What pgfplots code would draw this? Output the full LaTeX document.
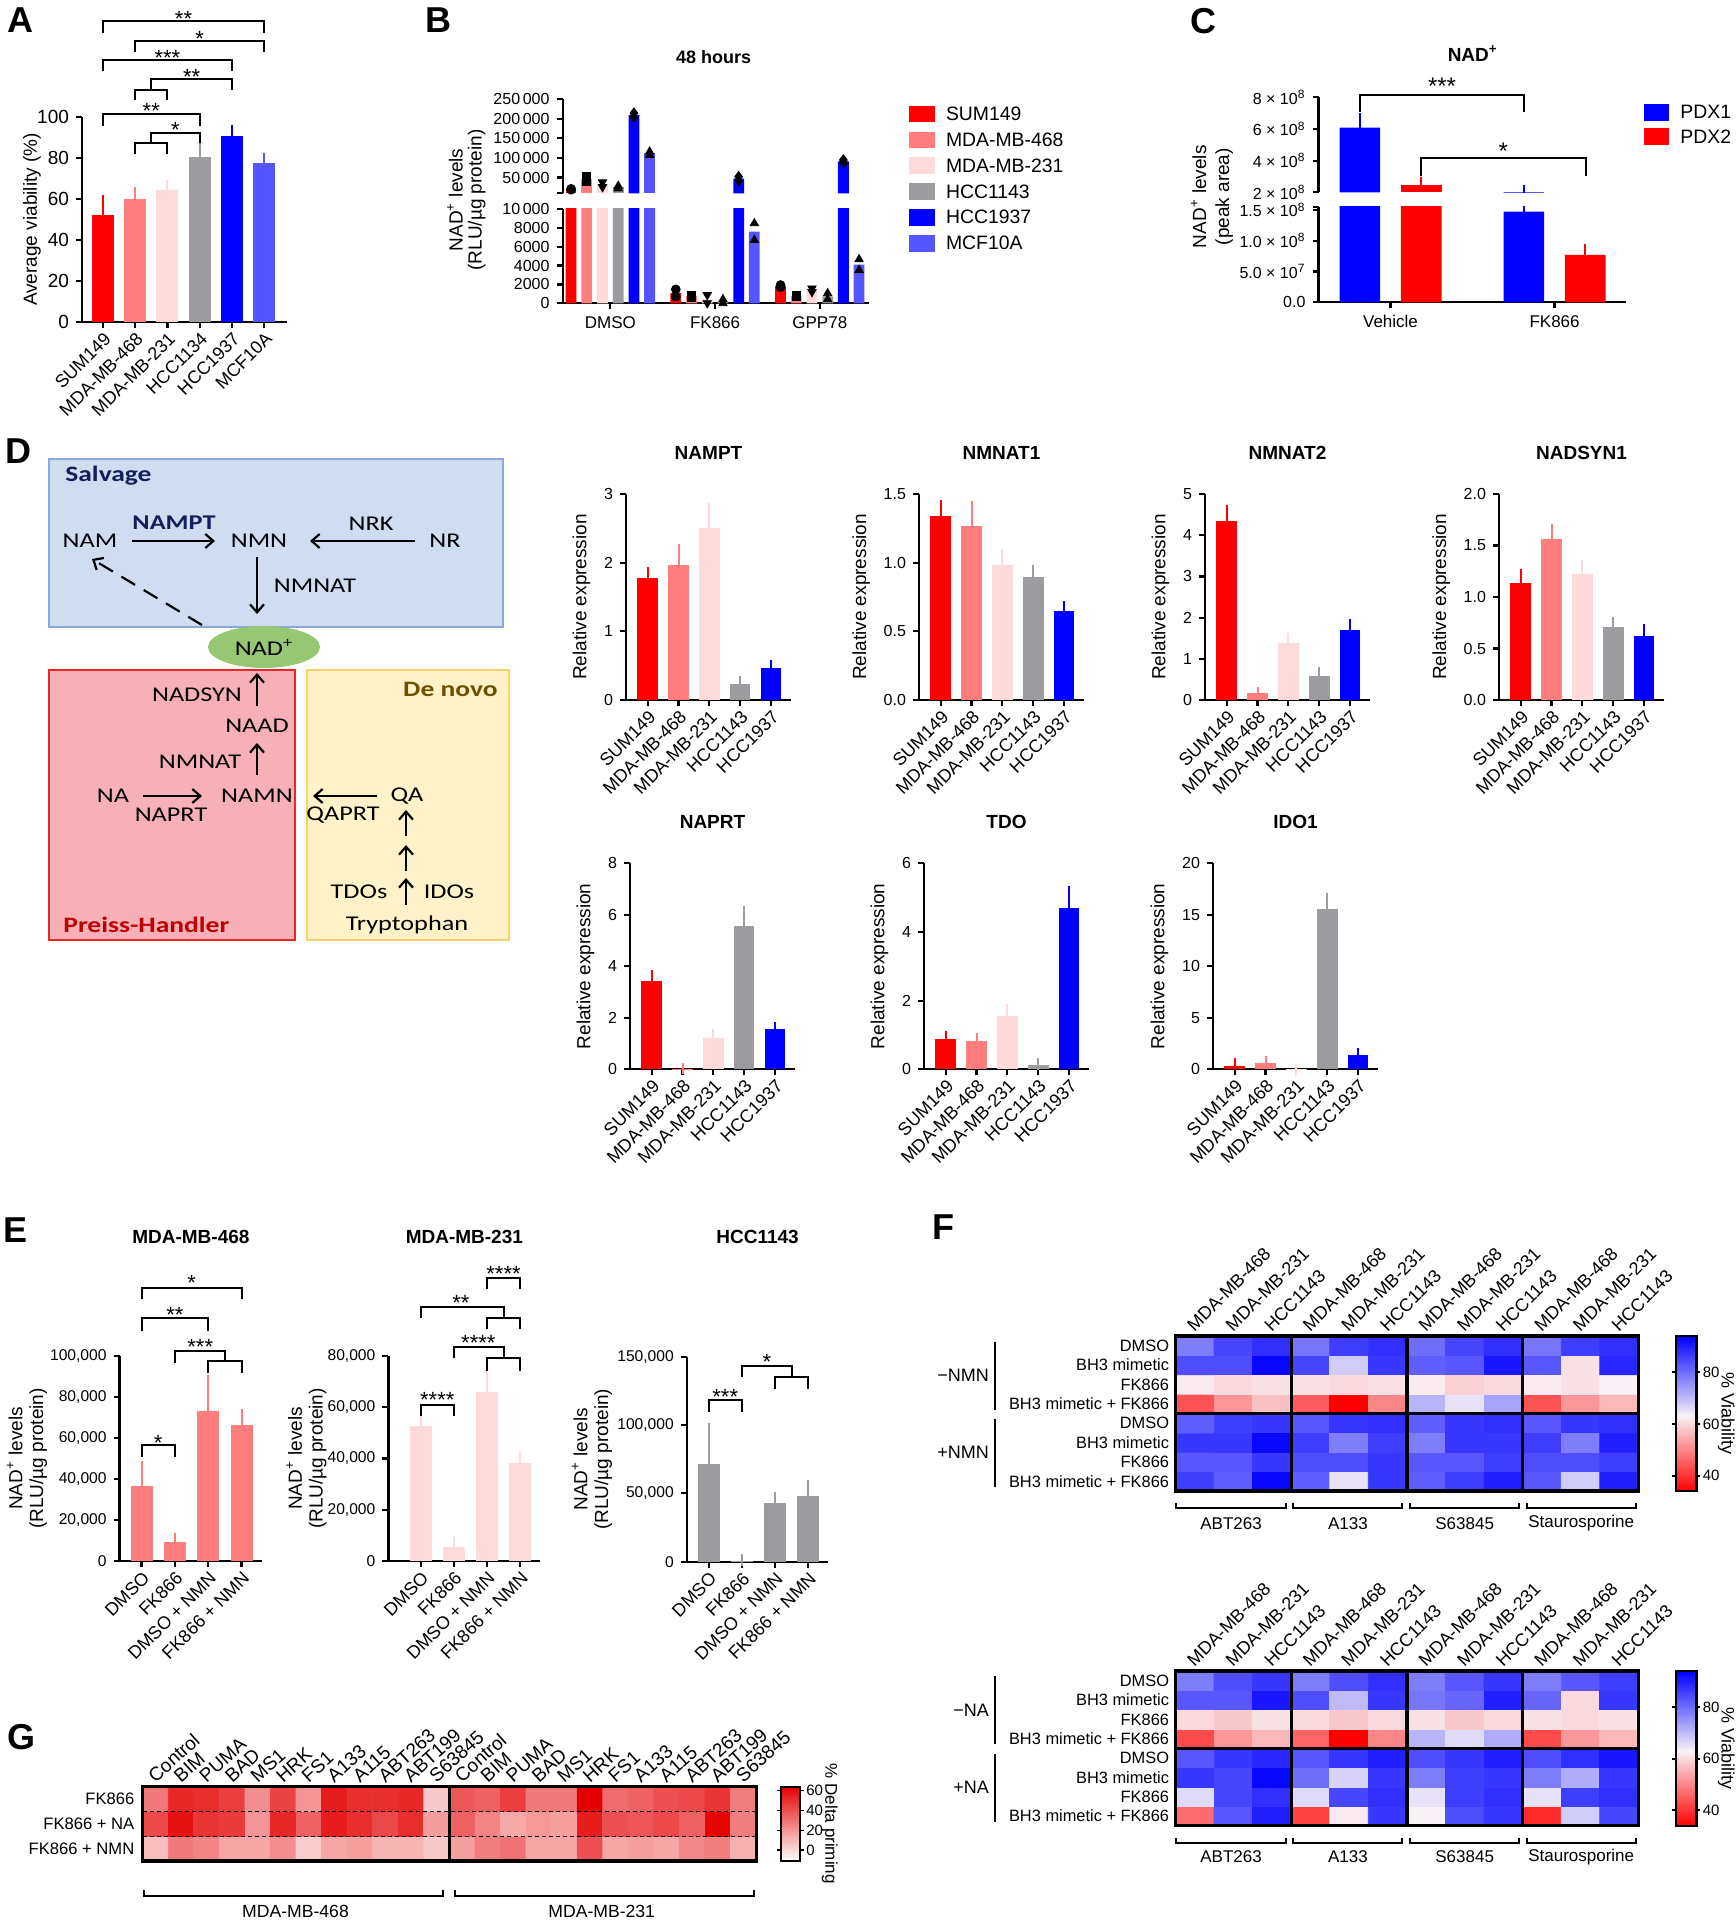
\documentclass[border=0pt]{standalone}
\usepackage{pgfplots}
\pgfplotsset{compat=1.18}
\usepackage{fontspec}
\setmainfont{Liberation Sans}
\newfontfamily\diag[FakeStretch=1.25]{Carlito}
\usetikzlibrary{arrows.meta}
\newcommand\fs[2]{\fontsize{#1}{#2}\selectfont}

\definecolor{cS}{RGB}{255,0,0}
\definecolor{cMa}{RGB}{255,125,125}
\definecolor{cMb}{RGB}{255,218,218}
\definecolor{cHa}{RGB}{155,155,160}
\definecolor{cHb}{RGB}{0,0,255}
\definecolor{cMCF}{RGB}{85,85,255}
\definecolor{salfill}{RGB}{208,220,240}
\definecolor{salline}{RGB}{140,168,220}
\definecolor{phfill}{RGB}{248,176,184}
\definecolor{phline}{RGB}{235,40,40}
\definecolor{dnfill}{RGB}{255,242,200}
\definecolor{dnline}{RGB}{250,210,100}
\definecolor{nadg}{RGB}{150,200,115}
\definecolor{navy}{RGB}{20,30,90}
\definecolor{dred}{RGB}{190,0,0}
\definecolor{dbrown}{RGB}{110,80,0}

\pgfplotsset{
  /pgf/number format/assume math mode=true,
  colormap={wr}{rgb255(0pt)=(255,255,255); rgb255(1pt)=(228,0,0)},
  colormap={rwb}{rgb255(0pt)=(255,0,0); rgb255(29pt)=(248,242,246); rgb255(60pt)=(0,0,255)},
  prism/.style={scale only axis, axis lines=left, axis line style={-,line width=1.1pt},
    tick align=outside, major tick length=3pt, tick style={line width=1.1pt,black},
    enlargelimits=false, tick label style={font=\fs{8}{9}}},
  B/.style={ybar, bar shift=0pt, draw=none, fill=#1, error bars/.cd, y dir=plus, y explicit,
    error bar style={#1,line width=1pt}, error mark options={#1,line width=1pt,mark size=2.9pt}},
  NB/.style={ybar, bar shift=0pt, draw=none, fill=#1},
  dax/.style={prism, anchor=south west, width=82.5pt, height=103pt, xmin=-0.705, xmax=4.65, ymin=0,
    xtick={0,1,2,3,4}, xticklabels={SUM149,MDA-MB-468,MDA-MB-231,HCC1143,HCC1937},
    x tick label style={rotate=45,anchor=north east,inner sep=1pt,font=\fs{9}{10}},
    y tick label style={font=\fs{8}{9}}, bar width=0.67,
    ylabel={Relative expression}, ylabel style={font=\fs{9.5}{11}},
    title style={at={(axis description cs:0.5,1)},anchor=center,yshift=14.5pt,font=\bfseries\fs{9.5}{11}},
    clip=false},
  dec/.style={y tick label style={/pgf/number format/fixed,/pgf/number format/fixed zerofill,/pgf/number format/precision=1}},
  eax/.style={prism, anchor=south west, height=102.5pt, ymin=0, scaled y ticks=false,
    /pgf/number format/fixed, /pgf/number format/1000 sep={,},
    xtick={0,1,2,3}, xticklabels={DMSO,FK866,DMSO + NMN,FK866 + NMN},
    x tick label style={rotate=45,anchor=north east,inner sep=1pt,font=\fs{9}{10}},
    y tick label style={font=\fs{7.8}{9}}, bar width=0.66,
    ylabel={NAD\textsuperscript{+} levels\\(RLU/µg protein)},
    title style={at={(axis description cs:0.5,1)},anchor=center,yshift=53.7pt,font=\bfseries\fs{9.5}{11}},
    clip=false},
  eyl/.style={ylabel style={at={(axis description cs:#1,0.5)},anchor=center,align=center,font=\fs{9.5}{10.4}}},
  hm/.style={scale only axis, anchor=south west, enlargelimits=false, axis on top,
    axis line style={line width=1.6pt}, tick style={draw=none}, major tick length=0pt,
    xticklabel pos=right},
}
\tikzset{st/.style={font=\fs{11}{12}, inner sep=0pt, yshift=-2.4pt},
  dt/.style={font=\diag\fs{10.5}{12}, inner sep=0pt},
  ar/.style={line width=1.1pt, -{Straight Barb[length=4pt,width=7pt]}},
  br/.style={line width=1pt}}

\begin{document}
\begin{tikzpicture}[x=0.5pt,y=-0.5pt]
\path[use as bounding box] (0,0) rectangle (1735,1920);

% ---------- panel letters
\node[font=\bfseries\fs{18}{20}] at (20,20) {A};
\node[font=\bfseries\fs{18}{20}] at (438,20) {B};
\node[font=\bfseries\fs{18}{20}] at (1203,21) {C};
\node[font=\bfseries\fs{18}{20}] at (18,451) {D};
\node[font=\bfseries\fs{18}{20}] at (16,1230) {E};
\node[font=\bfseries\fs{18}{20}] at (943,1227) {F};
\node[font=\bfseries\fs{18}{20}] at (22,1737) {G};

% ---------- A
\begin{axis}[prism, at={(41pt,-161pt)}, anchor=south west, width=102.5pt, height=102.5pt,
  xmin=-0.65, xmax=5.71, ymin=0, ymax=100, ytick={0,20,40,60,80,100},
  xtick={0,1,2,3,4,5}, xticklabels={SUM149,MDA-MB-468,MDA-MB-231,HCC1134,HCC1937,MCF10A},
  x tick label style={rotate=45,anchor=north east,inner sep=1pt,font=\fs{9}{10}},
  y tick label style={font=\fs{9.5}{11}},
  ylabel={Average viability (\%)}, ylabel style={at={(axis description cs:-0.244,0.5)},anchor=center,font=\fs{9.5}{11}},
  bar width=0.68, clip=false]
\addplot[B=cS] coordinates {(0,52.4) +- (0,6.9)};
\addplot[B=cMa] coordinates {(1,60) +- (0,2.8)};
\addplot[B=cMb] coordinates {(2,64.6) +- (0,1.9)};
\addplot[B=cHa] coordinates {(3,80.5) +- (0,4.1)};
\addplot[B=cHb] coordinates {(4,90.9) +- (0,2.6)};
\addplot[B=cMCF] coordinates {(5,77.6) +- (0,1.9)};
\draw[br] (0,141) |- (5,146.7) -- (5,141);
\node[st] at (2.5,150) {**};
\draw[br] (1,131.5) |- (5,137.2) -- (5,131.5);
\node[st] at (3,140.2) {*};
\draw[br] (0,122.3) |- (4,128) -- (4,122.3);
\node[st] at (2,131) {***};
\draw[br] (1,108.1) |- (2,113.3) -- (2,108.1);
\draw[br] (1.5,113.3) |- (4,118.7) -- (4,113.3);
\node[st] at (2.75,121.8) {**};
\draw[br] (0,95.8) |- (3,101.5) -- (3,95.8);
\node[st] at (1.5,105.2) {**};
\draw[br] (1,82) |- (2,87.3) -- (2,82);
\draw[br] (1.5,87.3) |- (3,92.2) -- (3,87.3);
\node[st] at (2.25,95.8) {*};
\end{axis}

% ---------- B
\node[font=\bfseries\fs{9}{10}] at (713.6,56.7) {48 hours};
\node[rotate=90, align=center, font=\fs{9.5}{9.5}] at (466.4,200) {NAD\textsuperscript{+} levels\\(RLU/µg protein)};
\begin{axis}[prism, at={(281.3pt,-151.65pt)}, anchor=south west, width=153.1pt, height=47.15pt,
  xmin=-0.456, xmax=2.468, ymin=0, ymax=10000, scaled y ticks=false,
  ytick={0,2000,4000,6000,8000,10000}, yticklabels={0,2000,4000,6000,8000,10\,000},
  xtick={0,1,2}, xticklabels={DMSO,FK866,GPP78}, x tick label style={font=\fs{8.5}{10}},
  bar width=0.103, clip=true]
\addplot[NB=cS] coordinates {(-0.375,20250) (0.625,1090) (1.625,1820)};
\addplot[NB=cMa] coordinates {(-0.225,45900) (0.775,750) (1.775,790)};
\addplot[NB=cMb] coordinates {(-0.075,32000) (0.925,450) (1.925,1395)};
\addplot[NB=cHa] coordinates {(0.075,25300) (1.075,210) (2.075,740)};
\addplot[NB=cHb] coordinates {(0.225,209000) (1.225,47175) (2.225,91400)};
\addplot[NB=cMCF] coordinates {(0.375,111700) (1.375,7600) (2.375,4100)};
\addplot[only marks, mark=*, mark size=2.2pt, black] coordinates {(0.625,1480) (0.625,700) (1.625,1940) (1.625,1700)};
\addplot[only marks, mark=square*, mark size=2pt, black] coordinates {(0.775,880) (0.775,620) (1.775,880) (1.775,700)};
\addplot[only marks, mark=triangle*, mark options={rotate=180}, mark size=2.4pt, black] coordinates {(0.925,880) (0.925,20) (1.925,1590) (1.925,1200)};
\addplot[only marks, mark=triangle*, mark size=2.4pt, black] coordinates {(1.075,420) (1.075,0) (2.075,1060) (2.075,420)};
\addplot[only marks, mark=triangle*, mark size=2.4pt, black] coordinates {(1.375,8480) (1.375,6710) (2.375,4660) (2.375,3530)};
\end{axis}
\begin{axis}[prism, at={(281.3pt,-96.65pt)}, anchor=south west, width=153.1pt, height=47.15pt,
  xmin=-0.456, xmax=2.468, ymin=10000, ymax=250000, axis x line=none, scaled y ticks=false,
  ytick={10000,50000,100000,150000,200000,250000},
  yticklabels={,50\,000,100\,000,150\,000,200\,000,250\,000}, xtick=\empty,
  bar width=0.103, clip=true]
\addplot[NB=cS] coordinates {(-0.375,20250)};
\addplot[NB=cMa] coordinates {(-0.225,45900)};
\addplot[NB=cMb] coordinates {(-0.075,32000)};
\addplot[NB=cHa] coordinates {(0.075,25300)};
\addplot[NB=cHb] coordinates {(0.225,209000) (1.225,47175) (2.225,91400)};
\addplot[NB=cMCF] coordinates {(0.375,111700)};
\addplot[only marks, mark=*, mark size=2.2pt, black] coordinates {(-0.375,19000) (-0.375,21500)};
\addplot[only marks, mark=square*, mark size=2pt, black] coordinates {(-0.225,52250) (-0.225,39500)};
\addplot[only marks, mark=triangle*, mark options={rotate=180}, mark size=2.4pt, black] coordinates {(-0.075,38000) (-0.075,26000)};
\addplot[only marks, mark=triangle*, mark size=2.4pt, black] coordinates {(0.075,28600) (0.075,22000)};
\addplot[only marks, mark=diamond*, mark size=2.6pt, black] coordinates {(0.225,214000) (0.225,204000) (1.225,52250) (1.225,42100) (2.225,94800) (2.225,88000)};
\addplot[only marks, mark=triangle*, mark size=2.4pt, black] coordinates {(0.375,115900) (0.375,107500)};
\end{axis}
\foreach \c/\t/\yy in {cS/SUM149/114, cMa/MDA-MB-468/140, cMb/MDA-MB-231/165.7, cHa/HCC1143/191.7, cHb/HCC1937/217.3, cMCF/MCF10A/243.3}{
  \fill[\c] (908.7,\yy-8.3) rectangle (934.7,\yy+8.3);
  \node[anchor=west, inner sep=0pt, font=\fs{9.7}{11}] at (945.6,\yy) {\t};
}

% ---------- C
\node[font=\bfseries\fs{9.5}{11}] at (1472.7,53.3) {NAD\textsuperscript{+}};
\node[rotate=90, align=center, font=\fs{9.5}{11.5}] at (1212,196.7) {NAD\textsuperscript{+} levels\\(peak area)};
\begin{axis}[prism, at={(659.25pt,-151.15pt)}, anchor=south west, width=153.7pt, height=47.75pt,
  xmin=-0.439, xmax=1.435, ymin=0, ymax=1.55e8, scaled y ticks=false,
  ytick={0,5e7,1e8,1.5e8,1.55e8},
  yticklabels={0.0,5.0 × 10\textsuperscript{7},1.0 × 10\textsuperscript{8},1.5 × 10\textsuperscript{8},},
  xtick={0,1}, xticklabels={Vehicle,FK866}, x tick label style={font=\fs{8.5}{10}},
  bar width=0.248, clip=true]
\addplot[B=cHb] coordinates {(-0.187,6.08e8) +- (0,0.57e8) (0.813,1.47e8) +- (0,0.61e8)};
\addplot[B=cS] coordinates {(0.187,2.46e8) +- (0,0.11e8) (1.187,0.77e8) +- (0,0.09e8)};
\end{axis}
\begin{axis}[prism, at={(659.25pt,-96.15pt)}, anchor=south west, width=153.7pt, height=47.5pt,
  xmin=-0.439, xmax=1.435, ymin=2e8, ymax=8e8, scaled y ticks=false, axis x line=none,
  ytick={2e8,4e8,6e8,8e8},
  yticklabels={2 × 10\textsuperscript{8},4 × 10\textsuperscript{8},6 × 10\textsuperscript{8},8 × 10\textsuperscript{8}},
  xtick=\empty, bar width=0.248, clip=true]
\addplot[B=cHb] coordinates {(-0.187,6.08e8) +- (0,0.57e8) (0.813,1.47e8) +- (0,0.61e8)};
\addplot[B=cS] coordinates {(0.187,2.46e8) +- (0,0.11e8)};
\end{axis}
\draw[br] (1359.9,111.7) -- (1359.9,95) -- (1523.9,95) -- (1523.9,111.7);
\node[st, font=\fs{12}{13}] at (1442,81.7) {***};
\draw[br] (1421.2,175.7) -- (1421.2,158.3) -- (1585.5,158.3) -- (1585.5,175.7);
\node[st, font=\fs{12}{13}] at (1503.3,146.7) {*};
\fill[cHb] (1643.9,104) rectangle (1669.1,120.7);
\fill[cS] (1643.9,128.3) rectangle (1669.1,145);
\node[anchor=west, inner sep=0pt, font=\fs{9.7}{11}] at (1680,112.3) {PDX1};
\node[anchor=west, inner sep=0pt, font=\fs{9.7}{11}] at (1680,136.7) {PDX2};

% ---------- D diagram
\filldraw[fill=salfill, draw=salline, line width=1pt] (49,459) rectangle (503,627);
\filldraw[fill=phfill, draw=phline, line width=1pt] (49,670) rectangle (295,940);
\filldraw[fill=dnfill, draw=dnline, line width=1pt] (307,670) rectangle (509,940);
\fill[nadg] (264,647) ellipse [x radius=28pt, y radius=10.5pt];
\node[anchor=west, inner sep=0pt, font=\diag\bfseries\fs{11}{13}, text=navy] at (65,476) {Salvage};
\node[dt, font=\diag\bfseries\fs{10.5}{12}, text=navy] at (174,523) {NAMPT};
\node[dt] at (90,541) {NAM};
\node[dt] at (259,541) {NMN};
\node[dt] at (445,541) {NR};
\node[dt] at (371,524) {NRK};
\node[dt] at (315,586) {NMNAT};
\draw[ar] (132,541) -- (215,541);
\draw[ar] (415,541) -- (310,541);
\draw[ar] (257,557) -- (257,614);
\draw[line width=1.1pt, dash pattern=on 8pt off 5pt, -{Straight Barb[length=4pt,width=7pt]}] (202,625) -- (92,559);
\node[dt] at (264,647) {NAD\textsuperscript{+}};
\node[dt] at (197,695) {NADSYN};
\draw[ar] (257,706) -- (257,673);
\node[dt] at (257,726) {NAAD};
\node[dt] at (200,762) {NMNAT};
\draw[ar] (257,775) -- (257,743);
\node[dt] at (113,796) {NA};
\draw[ar] (143,796) -- (202,796);
\node[dt] at (171,815) {NAPRT};
\node[dt] at (257,796) {NAMN};
\node[dt] at (407,796) {QA};
\draw[ar] (377,796) -- (313,796);
\node[dt] at (343,815) {QAPRT};
\draw[ar] (406,836) -- (406,810);
\draw[ar] (406,871) -- (406,845);
\draw[ar] (406,905) -- (406,878);
\node[dt] at (359,892) {TDOs};
\node[dt] at (449,892) {IDOs};
\node[dt, anchor=base] at (407,930) {Tryptophan};
\node[anchor=west, inner sep=0pt, font=\diag\bfseries\fs{11}{13}, text=dred] at (63,925) {Preiss-Handler};
\node[anchor=east, inner sep=0pt, font=\diag\bfseries\fs{11}{13}, text=dbrown] at (498,689) {De novo};

% ---------- D charts
\begin{axis}[dax, at={(313pt,-350pt)}, ymax=3, ytick={0,1,2,3}, title={NAMPT}]
\addplot[B=cS] coordinates {(0,1.77) +- (0,0.08)};
\addplot[B=cMa] coordinates {(1,1.97) +- (0,0.22)};
\addplot[B=cMb] coordinates {(2,2.51) +- (0,0.27)};
\addplot[B=cHa] coordinates {(3,0.23) +- (0,0.04)};
\addplot[B=cHb] coordinates {(4,0.46) +- (0,0.04)};
\end{axis}
\begin{axis}[dax, dec, at={(459.5pt,-350pt)}, ymax=1.5, ytick={0,0.5,1,1.5}, title={NMNAT1}]
\addplot[B=cS] coordinates {(0,1.337) +- (0,0.08)};
\addplot[B=cMa] coordinates {(1,1.264) +- (0,0.14)};
\addplot[B=cMb] coordinates {(2,0.985) +- (0,0.073)};
\addplot[B=cHa] coordinates {(3,0.897) +- (0,0.044)};
\addplot[B=cHb] coordinates {(4,0.649) +- (0,0.032)};
\end{axis}
\begin{axis}[dax, at={(602.5pt,-350pt)}, ymax=5, ytick={0,1,2,3,4,5}, title={NMNAT2}]
\addplot[B=cS] coordinates {(0,4.34) +- (0,0.26)};
\addplot[B=cMa] coordinates {(1,0.16) +- (0,0.02)};
\addplot[B=cMb] coordinates {(2,1.39) +- (0,0.09)};
\addplot[B=cHa] coordinates {(3,0.575) +- (0,0.075)};
\addplot[B=cHb] coordinates {(4,1.69) +- (0,0.14)};
\end{axis}
\begin{axis}[dax, dec, at={(749.5pt,-350pt)}, ymax=2, ytick={0,0.5,1,1.5,2}, title={NADSYN1}]
\addplot[B=cS] coordinates {(0,1.14) +- (0,0.08)};
\addplot[B=cMa] coordinates {(1,1.56) +- (0,0.09)};
\addplot[B=cMb] coordinates {(2,1.225) +- (0,0.075)};
\addplot[B=cHa] coordinates {(3,0.707) +- (0,0.04)};
\addplot[B=cHb] coordinates {(4,0.626) +- (0,0.054)};
\end{axis}
\begin{axis}[dax, at={(315pt,-534.65pt)}, ymax=8, ytick={0,2,4,6,8}, title={NAPRT}]
\addplot[B=cS] coordinates {(0,3.43) +- (0,0.21)};
\addplot[B=cMa] coordinates {(1,0.03) +- (0,0)};
\addplot[B=cMb] coordinates {(2,1.2) +- (0,0.13)};
\addplot[B=cHa] coordinates {(3,5.58) +- (0,0.54)};
\addplot[B=cHb] coordinates {(4,1.55) +- (0,0.07)};
\end{axis}
\begin{axis}[dax, at={(462pt,-534.65pt)}, ymax=6, ytick={0,2,4,6}, title={TDO}]
\addplot[B=cS] coordinates {(0,0.886) +- (0,0.07)};
\addplot[B=cMa] coordinates {(1,0.837) +- (0,0.06)};
\addplot[B=cMb] coordinates {(2,1.56) +- (0,0.17)};
\addplot[B=cHa] coordinates {(3,0.127) +- (0,0.03)};
\addplot[B=cHb] coordinates {(4,4.70) +- (0,0.46)};
\end{axis}
\begin{axis}[dax, at={(606.5pt,-534.65pt)}, ymax=20, ytick={0,5,10,15,20}, title={IDO1}]
\addplot[B=cS] coordinates {(0,0.36) +- (0,0.16)};
\addplot[B=cMa] coordinates {(1,0.65) +- (0,0.1)};
\addplot[B=cMb] coordinates {(2,0.05) +- (0,0)};
\addplot[B=cHa] coordinates {(3,15.6) +- (0,0.96)};
\addplot[B=cHb] coordinates {(4,1.36) +- (0,0.1)};
\end{axis}

% ---------- E
\begin{axis}[eax, eyl=-0.649, at={(59.8pt,-780.5pt)}, width=71.3pt, xmin=-0.66, xmax=3.62, ymax=100000,
  ytick={0,20000,40000,60000,80000,100000}, title={MDA-MB-468}]
\addplot[B=cMa] coordinates {(0,36750) +- (0,9250)};
\addplot[B=cMa] coordinates {(1,9430) +- (0,1630)};
\addplot[B=cMa] coordinates {(2,73330) +- (0,14640)};
\addplot[B=cMa] coordinates {(3,66340) +- (0,4880)};
\draw[br] (0,50570) |- (1,56590) -- (1,50570);
\node[st] at (0.5,60160) {*};
\draw[br] (2,91540) |- (3,97560) -- (3,91540);
\draw[br] (1,96420) |- (2.5,102440) -- (2.5,97560);
\node[st] at (1.76,107000) {***};
\draw[br] (0,112360) |- (2,118370) -- (2,112360);
\node[st] at (1,122440) {**};
\draw[br] (0,127640) |- (3,133330) -- (3,127640);
\node[st] at (1.5,137890) {*};
\end{axis}
\begin{axis}[eax, eyl=-0.539, at={(194.2pt,-780.5pt)}, width=75.95pt, xmin=-0.976, xmax=3.61, ymax=80000,
  ytick={0,20000,40000,60000,80000}, title={MDA-MB-231}]
\addplot[B=cMb] coordinates {(0,52810) +- (0,1950)};
\addplot[B=cMb] coordinates {(1,5590) +- (0,1690)};
\addplot[B=cMb] coordinates {(2,66080) +- (0,6770)};
\addplot[B=cMb] coordinates {(3,38110) +- (0,2610)};
\draw[br] (0,56590) |- (1,60880) -- (1,56590);
\node[st] at (0.5,64780) {****};
\draw[br] (2,74280) |- (3,79090) -- (3,74280);
\draw[br] (1,79090) |- (2.5,83640) -- (2.5,79090);
\node[st] at (1.74,86890) {****};
\draw[br] (2,90410) |- (3,94960) -- (3,90410);
\draw[br] (0,94700) |- (2.5,99250) -- (2.5,94960);
\node[st] at (1.21,102500) {**};
\draw[br] (2,106020) |- (3,110570) -- (3,106020);
\node[st] at (2.5,113820) {****};
\end{axis}
\begin{axis}[eax, eyl=-0.67, at={(343.4pt,-780.85pt)}, width=70.75pt, xmin=-0.66, xmax=3.61, ymax=150000,
  ytick={0,50000,100000,150000}, title={HCC1143}]
\addplot[B=cHa] coordinates {(0,71220) +- (0,26340)};
\addplot[B=cHa] coordinates {(1,500) +- (0,720)};
\addplot[B=cHa] coordinates {(2,42680) +- (0,4150)};
\addplot[B=cHa] coordinates {(3,48050) +- (0,7320)};
\draw[br] (0,109760) |- (1,118290) -- (1,109760);
\node[st] at (0.5,124390) {***};
\draw[br] (2,126340) |- (3,135370) -- (3,126340);
\draw[br] (1,134880) |- (2.5,143410) -- (2.5,135370);
\node[st] at (1.76,150000) {*};
\end{axis}

% ---------- F top
\begin{axis}[hm, at={(587.7pt,-745.5pt)}, width=231.5pt, height=77.5pt,
  xmin=-0.5, xmax=11.5, ymin=-0.5, ymax=7.5,
  xtick={0,...,11}, xticklabels={MDA-MB-468,MDA-MB-231,HCC1143,MDA-MB-468,MDA-MB-231,HCC1143,MDA-MB-468,MDA-MB-231,HCC1143,MDA-MB-468,MDA-MB-231,HCC1143},
  x tick label style={rotate=45,anchor=south west,inner sep=1pt,font=\fs{9}{10}},
  ytick={0,...,7}, yticklabels={BH3 mimetic + FK866,FK866,BH3 mimetic,DMSO,BH3 mimetic + FK866,FK866,BH3 mimetic,DMSO},
  y tick label style={font=\fs{8.2}{9},inner sep=1pt,xshift=-2pt},
  colormap name=rwb, point meta min=34, point meta max=94, colorbar,
  colorbar style={at={(parent axis.north east)}, anchor=north west, xshift=10.25pt, width=10.25pt, height=77.5pt,
    ytick={40,60,80}, y tick label style={font=\fs{7.5}{9},inner sep=1pt}, ylabel={\% Viability},
    ylabel style={at={(axis description cs:2.45,0.5)},anchor=center,rotate=180,font=\fs{9}{10}}, axis line style={line width=1.2pt},
    tick align=outside, major tick length=2pt, tick style={black,line width=1pt}}]
\addplot[matrix plot*, mesh/cols=12, mesh/rows=8, point meta=explicit] coordinates {
(0,0)[86] (1,0)[82] (2,0)[93] (3,0)[82] (4,0)[65] (5,0)[87] (6,0)[82] (7,0)[86] (8,0)[90] (9,0)[83] (10,0)[68] (11,0)[90]
(0,1)[83] (1,1)[83] (2,1)[87] (3,1)[84] (4,1)[84] (5,1)[87] (6,1)[83] (7,1)[83] (8,1)[86] (9,1)[84] (10,1)[84] (11,1)[86]
(0,2)[87] (1,2)[87] (2,2)[93] (3,2)[86] (4,2)[78] (5,2)[86] (6,2)[78] (7,2)[87] (8,2)[87] (9,2)[86] (10,2)[78] (11,2)[90]
(0,3)[82] (1,3)[86] (2,3)[87] (3,3)[83] (4,3)[87] (5,3)[88] (6,3)[82] (7,3)[87] (8,3)[88] (9,3)[83] (10,3)[87] (11,3)[88]
(0,4)[44] (1,4)[52] (2,4)[57] (3,4)[45] (4,4)[34] (5,4)[50] (6,4)[71] (7,4)[65] (8,4)[73] (9,4)[44] (10,4)[52] (11,4)[56]
(0,5)[62] (1,5)[60] (2,5)[61] (3,5)[61] (4,5)[60] (5,5)[61] (6,5)[62] (7,5)[59] (8,5)[60] (9,5)[62] (10,5)[61] (11,5)[63]
(0,6)[84] (1,6)[84] (2,6)[93] (3,6)[85] (4,6)[68] (5,6)[87] (6,6)[82] (7,6)[83] (8,6)[91] (9,6)[83] (10,6)[61] (11,6)[89]
(0,7)[78] (1,7)[85] (2,7)[88] (3,7)[79] (4,7)[86] (5,7)[88] (6,7)[80] (7,7)[85] (8,7)[88] (9,7)[79] (10,7)[86] (11,7)[88]
};
\draw[line width=1.6pt] (2.5,-0.5) -- (2.5,7.5);
\draw[line width=1.6pt] (5.5,-0.5) -- (5.5,7.5);
\draw[line width=1.6pt] (8.5,-0.5) -- (8.5,7.5);
\draw[line width=1.6pt] (-0.5,3.5) -- (11.5,3.5);
\end{axis}
\node[font=\fs{9}{10}] at (963,1375) {−NMN};
\node[font=\fs{9}{10}] at (963,1452) {+NMN};
\draw[br] (995,1341.7) -- (995,1410);
\draw[br] (995,1419) -- (995,1486.7);
\foreach \a/\b/\t in {1176.4/1285.8/ABT263, 1293.4/1402.3/A133, 1410/1519.3/S63845, 1526.5/1635.9/Staurosporine}{
  \draw[br] (\a,1503) -- (\a,1508.3) -- (\b,1508.3) -- (\b,1503);
  \node[font=\fs{8.5}{10}] at ({(\a+\b)/2},1523.3) {\t};
}

% ---------- F bottom
\begin{axis}[hm, at={(587.7pt,-912.85pt)}, width=231.5pt, height=77.35pt,
  xmin=-0.5, xmax=11.5, ymin=-0.5, ymax=7.5,
  xtick={0,...,11}, xticklabels={MDA-MB-468,MDA-MB-231,HCC1143,MDA-MB-468,MDA-MB-231,HCC1143,MDA-MB-468,MDA-MB-231,HCC1143,MDA-MB-468,MDA-MB-231,HCC1143},
  x tick label style={rotate=45,anchor=south west,inner sep=1pt,font=\fs{9}{10}},
  ytick={0,...,7}, yticklabels={BH3 mimetic + FK866,FK866,BH3 mimetic,DMSO,BH3 mimetic + FK866,FK866,BH3 mimetic,DMSO},
  y tick label style={font=\fs{8.2}{9},inner sep=1pt,xshift=-2pt},
  colormap name=rwb, point meta min=34, point meta max=94, colorbar,
  colorbar style={at={(parent axis.north east)}, anchor=north west, xshift=10.25pt, width=10.25pt, height=77.35pt,
    ytick={40,60,80}, y tick label style={font=\fs{7.5}{9},inner sep=1pt}, ylabel={\% Viability},
    ylabel style={at={(axis description cs:2.45,0.5)},anchor=center,rotate=180,font=\fs{9}{10}}, axis line style={line width=1.2pt},
    tick align=outside, major tick length=2pt, tick style={black,line width=1pt}}]
\addplot[matrix plot*, mesh/cols=12, mesh/rows=8, point meta=explicit] coordinates {
(0,0)[47] (1,0)[83] (2,0)[90] (3,0)[42] (4,0)[62] (5,0)[87] (6,0)[63] (7,0)[84] (8,0)[87] (9,0)[39] (10,0)[68] (11,0)[85]
(0,1)[66] (1,1)[85] (2,1)[88] (3,1)[66] (4,1)[85] (5,1)[88] (6,1)[65] (7,1)[86] (8,1)[88] (9,1)[65] (10,1)[86] (11,1)[88]
(0,2)[87] (1,2)[85] (2,2)[93] (3,2)[80] (4,2)[67] (5,2)[87] (6,2)[78] (7,2)[86] (8,2)[87] (9,2)[78] (10,2)[72] (11,2)[87]
(0,3)[83] (1,3)[87] (2,3)[89] (3,3)[83] (4,3)[87] (5,3)[90] (6,3)[84] (7,3)[87] (8,3)[90] (9,3)[84] (10,3)[88] (11,3)[91]
(0,4)[43] (1,4)[52] (2,4)[56] (3,4)[46] (4,4)[34] (5,4)[50] (6,4)[71] (7,4)[66] (8,4)[72] (9,4)[43] (10,4)[52] (11,4)[56]
(0,5)[60] (1,5)[58] (2,5)[61] (3,5)[60] (4,5)[58] (5,5)[60] (6,5)[61] (7,5)[58] (8,5)[60] (9,5)[61] (10,5)[60] (11,5)[61]
(0,6)[83] (1,6)[83] (2,6)[91] (3,6)[84] (4,6)[70] (5,6)[87] (6,6)[79] (7,6)[81] (8,6)[90] (9,6)[81] (10,6)[60] (11,6)[87]
(0,7)[78] (1,7)[84] (2,7)[87] (3,7)[78] (4,7)[84] (5,7)[88] (6,7)[78] (7,7)[83] (8,7)[87] (9,7)[78] (10,7)[83] (11,7)[86]
};
\draw[line width=1.6pt] (2.5,-0.5) -- (2.5,7.5);
\draw[line width=1.6pt] (5.5,-0.5) -- (5.5,7.5);
\draw[line width=1.6pt] (8.5,-0.5) -- (8.5,7.5);
\draw[line width=1.6pt] (-0.5,3.5) -- (11.5,3.5);
\end{axis}
\node[font=\fs{9}{10}] at (971,1710) {−NA};
\node[font=\fs{9}{10}] at (971,1787.3) {+NA};
\draw[br] (995,1675.7) -- (995,1744.3);
\draw[br] (995,1754) -- (995,1821.7);
\foreach \a/\b/\t in {1176.4/1285.8/ABT263, 1293.4/1402.3/A133, 1410/1519.3/S63845, 1526.5/1635.9/Staurosporine}{
  \draw[br] (\a,1838.3) -- (\a,1843.3) -- (\b,1843.3) -- (\b,1838.3);
  \node[font=\fs{8.5}{10}] at ({(\a+\b)/2},1856.7) {\t};
}

% ---------- G
\begin{axis}[hm, at={(71.35pt,-930.5pt)}, width=306.7pt, height=37.15pt,
  xmin=-0.5, xmax=23.5, ymin=-0.5, ymax=2.5,
  xtick={0,...,23}, xticklabels={Control,BIM,PUMA,BAD,MS1,HRK,FS1,A133,A115,ABT263,ABT199,S63845,Control,BIM,PUMA,BAD,MS1,HRK,FS1,A133,A115,ABT263,ABT199,S63845},
  x tick label style={rotate=42,anchor=south west,inner sep=1pt,font=\fs{9.5}{10}},
  ytick={0,1,2}, yticklabels={FK866 + NMN,FK866 + NA,FK866},
  y tick label style={font=\fs{8.3}{9},inner sep=1pt,xshift=-3pt},
  colormap name=wr, point meta min=-11, point meta max=64, colorbar,
  colorbar style={at={(parent axis.north east)}, anchor=north west, xshift=4pt, width=9.35pt, height=37.15pt,
    ytick={0,20,40,60}, y tick label style={font=\fs{7.5}{9},inner sep=1pt}, ylabel={\% Delta priming},
    ylabel style={at={(axis description cs:2.6,0.5)},anchor=center,rotate=180,font=\fs{8.5}{10}}, axis line style={line width=1.2pt},
    tick align=outside, major tick length=2pt, tick style={black,line width=0.8pt}}]
\addplot[matrix plot*, mesh/cols=24, mesh/rows=3, point meta=explicit] coordinates {
(0,0)[8] (1,0)[28] (2,0)[25] (3,0)[15] (4,0)[15] (5,0)[22] (6,0)[4] (7,0)[15] (8,0)[17] (9,0)[11] (10,0)[11] (11,0)[5] (12,0)[17] (13,0)[27] (14,0)[30] (15,0)[15] (16,0)[15] (17,0)[40] (18,0)[15] (19,0)[17] (20,0)[15] (21,0)[24] (22,0)[27] (23,0)[12]
(0,1)[42] (1,1)[58] (2,1)[48] (3,1)[46] (4,1)[20] (5,1)[52] (6,1)[35] (7,1)[55] (8,1)[50] (9,1)[42] (10,1)[50] (11,1)[18] (12,1)[35] (13,1)[25] (14,1)[14] (15,1)[19] (16,1)[17] (17,1)[55] (18,1)[40] (19,1)[38] (20,1)[42] (21,1)[35] (22,1)[62] (23,1)[27]
(0,2)[28] (1,2)[52] (2,2)[50] (3,2)[45] (4,2)[22] (5,2)[44] (6,2)[20] (7,2)[55] (8,2)[50] (9,2)[50] (10,2)[52] (11,2)[5] (12,2)[38] (13,2)[35] (14,2)[45] (15,2)[28] (16,2)[28] (17,2)[65] (18,2)[32] (19,2)[35] (20,2)[40] (21,2)[42] (22,2)[48] (23,2)[27]
};
\draw[line width=1.6pt] (11.5,-0.5) -- (11.5,2.5);
\draw[line width=0.7pt, dash pattern=on 2pt off 1.5pt] (-0.5,0.5) -- (23.5,0.5);
\draw[line width=0.7pt, dash pattern=on 2pt off 1.5pt] (-0.5,1.5) -- (23.5,1.5);
\end{axis}
\draw[br] (143.8,1890) -- (143.8,1896) -- (443,1896) -- (443,1890);
\node[font=\fs{8.8}{10}] at (295.5,1911.7) {MDA-MB-468};
\draw[br] (455,1890) -- (455,1896) -- (753.5,1896) -- (753.5,1890);
\node[font=\fs{8.8}{10}] at (601.7,1911.7) {MDA-MB-231};
\end{tikzpicture}
\end{document}
